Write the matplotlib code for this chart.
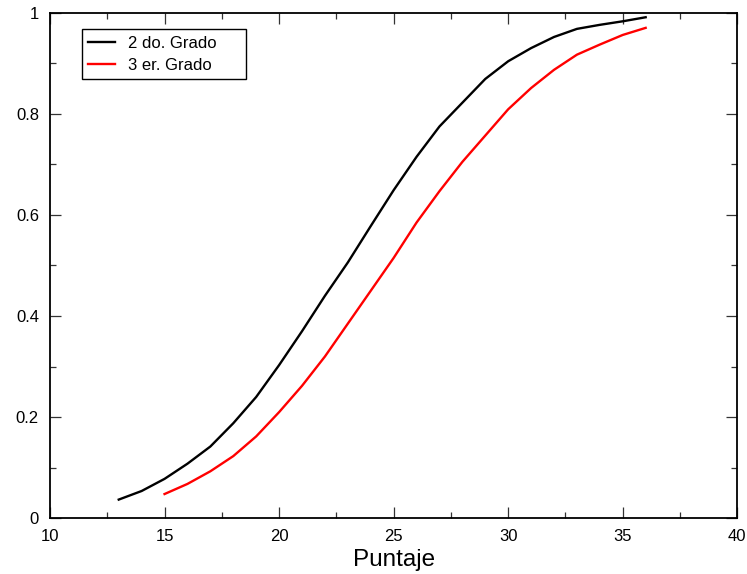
import matplotlib
matplotlib.use("Agg")
import matplotlib.pyplot as plt
from matplotlib.ticker import MultipleLocator

plt.rcParams['font.family'] = ['Liberation Sans', 'DejaVu Sans']

x_2do = [13, 14, 15, 16, 17, 18, 19, 20, 21, 22, 23, 24, 25, 26, 27, 28, 29, 30, 31, 32, 33, 34, 35, 36]
y_2do = [0.037, 0.054, 0.078, 0.108, 0.142, 0.188, 0.240, 0.303, 0.370, 0.440, 0.506, 0.578, 0.649, 0.715, 0.775, 0.822, 0.869, 0.904, 0.930, 0.952, 0.968, 0.976, 0.983, 0.991]

x_3er = [15, 16, 17, 18, 19, 20, 21, 22, 23, 24, 25, 26, 27, 28, 29, 30, 31, 32, 33, 34, 35, 36]
y_3er = [0.048, 0.068, 0.093, 0.123, 0.162, 0.210, 0.262, 0.320, 0.385, 0.450, 0.515, 0.585, 0.647, 0.705, 0.757, 0.809, 0.851, 0.887, 0.917, 0.937, 0.956, 0.970]

labels = ["2 do. Grado", "3 er. Grado"]
x_ticks = [10, 15, 20, 25, 30, 35, 40]
x_ticklabels = ['10', '15', '20', '25', '30', '35', '40']
y_ticks = [0, 0.2, 0.4, 0.6, 0.8, 1.0]
y_ticklabels = ['0', '0.2', '0.4', '0.6', '0.8', '1']

fig = plt.figure(figsize=(7.47, 5.74), dpi=100)
L, R, B, T = 50/747, 737.3/747, (574-518.3)/574, (574-12.7)/574
ax = fig.add_axes([L, B, R-L, T-B])

ax.plot(x_2do, y_2do, color='black', lw=1.7, label=labels[0])
ax.plot(x_3er, y_3er, color='#ff0000', lw=1.7, label=labels[1])

ax.set_xlim(10, 40)
ax.set_ylim(0, 1)
ax.set_xticks(x_ticks)
ax.set_xticklabels(x_ticklabels)
ax.set_yticks(y_ticks)
ax.set_yticklabels(y_ticklabels)
ax.xaxis.set_minor_locator(MultipleLocator(2.5))
ax.yaxis.set_minor_locator(MultipleLocator(0.1))

ax.tick_params(which='both', direction='in', top=True, right=True, labelsize=12, color='#333333')
ax.tick_params(which='major', length=8, width=0.9, pad=8)
ax.tick_params(which='minor', length=4.3, width=0.9)
for s in ax.spines.values():
    s.set_linewidth(1.3)
    s.set_color('black')

ax.set_xlabel('Puntaje', fontsize=17.5, labelpad=3)

x0 = (82-50)/687.3
y1 = (518.3-29.3)/505.6
y0 = (518.3-77.3)/505.6
w = (245.7-82)/687.3
leg = ax.legend(loc='upper left', bbox_to_anchor=(x0, y0, w, y1-y0), mode='expand',
                borderaxespad=0, fontsize=12, frameon=True, fancybox=False,
                edgecolor='black', framealpha=1, handlelength=1.6, handletextpad=0.75,
                borderpad=0.38, labelspacing=0.45)
leg.get_frame().set_linewidth(1.0)

fig.savefig('out.png', dpi=100)
